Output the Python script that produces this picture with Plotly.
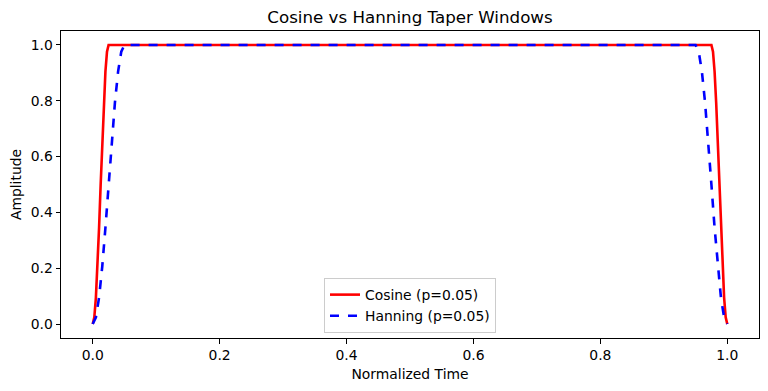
import plotly.graph_objects as go

# Values (edges of the taper, flat at 1.0 in between)
cos_x = [0.0, 0.0025, 0.005, 0.0075, 0.01, 0.0125, 0.015, 0.0175, 0.02, 0.0225, 0.025,
         0.5,
         0.975, 0.9775, 0.98, 0.9825, 0.985, 0.9875, 0.99, 0.9925, 0.995, 0.9975, 1.0]
cos_y = [0.0, 0.024, 0.095, 0.206, 0.345, 0.5, 0.655, 0.794, 0.905, 0.976, 1.0,
         1.0,
         1.0, 0.976, 0.905, 0.794, 0.655, 0.5, 0.345, 0.206, 0.095, 0.024, 0.0]

han_x = [0.0, 0.005, 0.01, 0.015, 0.02, 0.025, 0.03, 0.035, 0.04, 0.045, 0.05, 0.5,
         0.95, 0.955, 0.96, 0.965, 0.97, 0.975, 0.98, 0.985, 0.99, 0.995, 1.0]
han_y = [0.0, 0.024, 0.095, 0.206, 0.345, 0.5, 0.655, 0.794, 0.905, 0.976, 1.0, 1.0,
         1.0, 0.976, 0.905, 0.794, 0.655, 0.5, 0.345, 0.206, 0.095, 0.024, 0.0]

x_ticks = [0.0, 0.2, 0.4, 0.6, 0.8, 1.0]
y_ticks = [0.0, 0.2, 0.4, 0.6, 0.8, 1.0]

fig = go.Figure()
fig.add_trace(go.Scatter(x=cos_x, y=cos_y, mode="lines", name="Cosine (p=0.05)",
                         line=dict(color="red", width=2.6)))
fig.add_trace(go.Scatter(x=han_x, y=han_y, mode="lines", name="Hanning (p=0.05)",
                         line=dict(color="blue", width=2.6, dash="dash")))

FS = 13.9
axis_common = dict(showline=True, linecolor="black", linewidth=1, mirror=True,
                   ticks="outside", ticklen=4.5, tickcolor="black", showgrid=False,
                   zeroline=False, automargin=False, tickfont=dict(size=FS, color="black"))

# page body has an 8px margin, so the figure is sized/margined to compensate
fig.update_layout(
    width=752, height=375,
    margin=dict(l=53, r=1, t=23, b=45),
    paper_bgcolor="white", plot_bgcolor="white",
    font=dict(family="DejaVu Sans", size=FS, color="black"),
    title=dict(text="Cosine vs Hanning Taper Windows", xref="paper", x=0.5, xanchor="center",
               yref="container", y=0.975, yanchor="middle", font=dict(size=16.7)),
    xaxis=dict(range=[-0.05, 1.05], tickvals=x_ticks, ticktext=[f"{v:.1f}" for v in x_ticks],
               title=dict(text="Normalized Time", standoff=7, font=dict(size=FS)), **axis_common),
    yaxis=dict(range=[-0.05, 1.05], tickvals=y_ticks, ticktext=[f"{v:.1f}" for v in y_ticks],
               title=dict(text="Amplitude", standoff=6, font=dict(size=FS)), **axis_common),
    legend=dict(x=0.5, xanchor="center", y=0.016, yanchor="bottom",
                bordercolor="#cccccc", borderwidth=1, bgcolor="rgba(255,255,255,0.8)",
                font=dict(size=FS)),
)

fig.write_html("out.html")
